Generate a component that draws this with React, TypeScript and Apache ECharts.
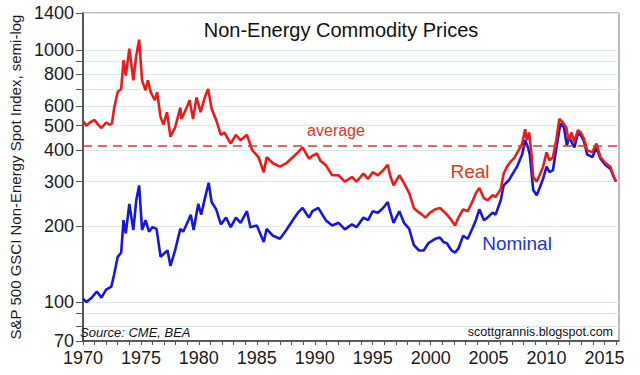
import React, { useEffect, useRef } from "react";
import * as echarts from "echarts";

const FONT = "'Liberation Sans', Arial, sans-serif";

const realYears = [
  1970.0, 1970.3, 1970.6, 1971.0, 1971.3, 1971.6, 1972.0, 1972.3, 1972.5, 1972.7,
  1973.0, 1973.3, 1973.5, 1973.7, 1974.0, 1974.35, 1974.6, 1974.85, 1975.1, 1975.4,
  1975.6, 1975.85, 1976.2, 1976.4, 1976.7, 1976.95, 1977.25, 1977.55, 1977.95, 1978.4,
  1978.5, 1978.95, 1979.2, 1979.5, 1979.8, 1980.15, 1980.55, 1980.8, 1981.1, 1981.5,
  1981.9, 1982.2, 1982.75, 1983.2, 1983.6, 1984.15, 1984.6, 1985.15, 1985.6, 1985.85,
  1986.4, 1987.0, 1987.55, 1988.1, 1988.55, 1988.95, 1989.5, 1989.8, 1990.2, 1990.5,
  1990.95, 1991.5, 1992.05, 1992.6, 1993.2, 1993.6, 1994.2, 1994.6, 1995.0, 1995.45,
  1995.9, 1996.3, 1996.5, 1996.8, 1997.3, 1997.7, 1998.15, 1998.55, 1998.85, 1999.25,
  1999.55, 1999.95, 2000.4, 2000.8, 2001.1, 2001.4, 2001.8, 2002.1, 2002.4, 2002.8,
  2003.2, 2003.65, 2003.9, 2004.2, 2004.6, 2004.9, 2005.35, 2005.6, 2006.05, 2006.3,
  2006.6, 2006.9, 2007.2, 2007.6, 2007.9, 2008.15, 2008.3, 2008.5, 2008.7, 2008.85,
  2009.15, 2009.4, 2009.7, 2010.0, 2010.25, 2010.55, 2010.85, 2011.1, 2011.4, 2011.7,
  2011.9, 2012.15, 2012.4, 2012.7, 2012.95, 2013.25, 2013.5, 2013.95, 2014.3, 2014.65,
  2015.1, 2015.5, 2015.8, 2016.0,
];
const realValues = [
  522, 500, 515, 527, 505, 490, 515, 505, 510, 590,
  680, 700, 909, 790, 1010, 757, 950, 1097, 757, 691,
  757, 680, 631, 680, 540, 505, 566, 452, 492, 590,
  532, 590, 631, 532, 648, 566, 655, 700, 585, 526,
  460, 470, 425, 460, 438, 460, 400, 375, 327, 375,
  355, 344, 355, 375, 392, 410, 370, 380, 388, 362,
  349, 318, 318, 300, 313, 300, 323, 308, 327, 318,
  333, 350, 318, 290, 318, 296, 270, 236, 229, 222,
  216, 226, 233, 236, 229, 222, 211, 201, 216, 233,
  229, 253, 270, 283, 258, 253, 265, 261, 280, 323,
  345, 360, 372, 400, 425, 484, 438, 470, 385, 313,
  300, 318, 344, 392, 365, 375, 442, 532, 515, 492,
  438, 470, 431, 480, 470, 442, 400, 392, 425, 375,
  355, 344, 313, 300,
];

const nominalYears = [
  1970.0, 1970.3, 1970.75, 1971.2, 1971.6, 1972.0, 1972.45, 1972.7, 1973.0, 1973.3,
  1973.5, 1973.7, 1974.0, 1974.35, 1974.6, 1974.85, 1975.1, 1975.4, 1975.7, 1976.0,
  1976.35, 1976.7, 1977.1, 1977.3, 1977.55, 1977.95, 1978.4, 1978.65, 1979.1, 1979.3,
  1979.55, 1979.95, 1980.2, 1980.55, 1980.85, 1981.1, 1981.5, 1981.9, 1982.35, 1982.75,
  1983.2, 1983.6, 1984.15, 1984.45, 1985.0, 1985.6, 1985.85, 1986.4, 1987.0, 1987.55,
  1988.1, 1988.55, 1988.95, 1989.5, 1989.8, 1990.3, 1990.95, 1991.5, 1992.05, 1992.6,
  1993.2, 1993.6, 1994.2, 1994.6, 1995.0, 1995.45, 1995.9, 1996.3, 1996.5, 1996.8,
  1997.3, 1997.7, 1998.15, 1998.55, 1999.0, 1999.4, 1999.8, 2000.4, 2000.8, 2001.1,
  2001.4, 2001.8, 2002.1, 2002.4, 2002.8, 2003.2, 2003.65, 2003.9, 2004.2, 2004.6,
  2004.9, 2005.35, 2005.6, 2006.05, 2006.3, 2006.75, 2007.0, 2007.45, 2007.9, 2008.15,
  2008.4, 2008.55, 2008.85, 2009.15, 2009.4, 2009.7, 2010.0, 2010.25, 2010.55, 2010.85,
  2011.2, 2011.5, 2011.75, 2011.95, 2012.4, 2012.7, 2012.95, 2013.25, 2013.5, 2013.95,
  2014.3, 2014.65, 2015.1, 2015.5, 2015.8, 2016.0,
];
const nominalValues = [
  103, 100, 104, 110, 104, 112, 115, 129, 151, 157,
  211, 187, 245, 193, 253, 290, 193, 211, 190, 198,
  195, 151, 157, 160, 139, 160, 195, 190, 211, 222,
  193, 245, 222, 261, 297, 249, 233, 203, 216, 198,
  216, 206, 229, 198, 201, 173, 195, 183, 178, 193,
  211, 226, 236, 216, 229, 236, 211, 201, 206, 194,
  203, 198, 216, 211, 229, 226, 236, 249, 229, 206,
  229, 206, 195, 168, 160, 160, 171, 178, 180, 173,
  171, 160, 157, 163, 183, 178, 198, 211, 233, 211,
  216, 226, 222, 253, 290, 304, 318, 344, 385, 438,
  410, 385, 278, 265, 283, 308, 344, 327, 333, 410,
  510, 492, 418, 451, 410, 465, 460, 431, 385, 375,
  410, 370, 349, 338, 313, 300,
];

const averageValue = 415;

const yTickValues = [70, 80, 90, 100, 200, 300, 400, 500, 600, 700, 800, 900, 1000, 1400];
const yLabelValues = [70, 100, 200, 300, 400, 500, 600, 800, 1000, 1400];
const xLabelYears = [1970, 1975, 1980, 1985, 1990, 1995, 2000, 2005, 2010, 2015];
const xTickYears = [
  1970, 1971, 1972, 1973, 1974, 1975, 1976, 1977, 1978, 1979,
  1980, 1981, 1982, 1983, 1984, 1985, 1986, 1987, 1988, 1989,
  1990, 1991, 1992, 1993, 1994, 1995, 1996, 1997, 1998, 1999,
  2000, 2001, 2002, 2003, 2004, 2005, 2006, 2007, 2008, 2009,
  2010, 2011, 2012, 2013, 2014, 2015, 2016,
];

const lg = (v: number) => Math.log10(v);

export default function App() {
  const ref = useRef<HTMLDivElement>(null);

  useEffect(() => {
    if (!ref.current) return;
    const chart = echarts.init(ref.current, undefined, { renderer: "svg" });
    const RED = "#ec1b1b";
    const BLUE = "#1717dc";
    chart.setOption({
      animation: false,
      textStyle: { fontFamily: FONT },
      grid: {
        left: 73,
        top: 13,
        width: 546,
        height: 328,
        show: true,
        borderColor: "#777",
        borderWidth: 1,
        backgroundColor: "transparent",
      },
      xAxis: {
        type: "value",
        min: 1970,
        max: 2016.25,
        axisLine: { show: true, onZero: false, lineStyle: { color: "#333", width: 1.5 } },
        axisTick: {
          show: true,
          customValues: xTickYears,
          length: 4,
          lineStyle: { color: "#555" },
        },
        axisLabel: {
          customValues: xLabelYears,
          fontSize: 18,
          color: "#1a1a1a",
          margin: 8,
          fontFamily: FONT,
          formatter: (v: number) => String(Math.round(v)),
        },
        splitLine: { show: false },
      },
      yAxis: {
        type: "value",
        min: lg(70),
        max: lg(1400),
        name: "S&P 500 GSCI Non-Energy Spot Index, semi-log",
        nameLocation: "middle",
        nameGap: 56,
        nameTextStyle: { fontSize: 15, color: "#1a1a1a", fontFamily: FONT },
        axisLine: { show: true, lineStyle: { color: "#333", width: 1.5 } },
        axisTick: {
          show: true,
          customValues: yTickValues.map(lg),
          length: 7,
          lineStyle: { color: "#555" },
        },
        axisLabel: {
          customValues: yLabelValues.map(lg),
          fontSize: 18,
          color: "#1a1a1a",
          margin: 9,
          fontFamily: FONT,
          formatter: (v: number) => String(Math.round(Math.pow(10, v))),
        },
        splitLine: { show: true, lineStyle: { color: "#d6e8f0", width: 1 } },
      },
      series: [
        {
          type: "line",
          name: "Nominal",
          data: nominalYears.map((y, i) => [y, lg(nominalValues[i])]),
          showSymbol: false,
          symbol: "none",
          lineStyle: { color: BLUE, width: 2.6 },
          itemStyle: { color: BLUE },
          z: 3,
        },
        {
          type: "line",
          name: "Real",
          data: realYears.map((y, i) => [y, lg(realValues[i])]),
          showSymbol: false,
          symbol: "none",
          lineStyle: { color: RED, width: 2.6 },
          itemStyle: { color: RED },
          z: 4,
          markLine: {
            silent: true,
            symbol: "none",
            label: { show: false },
            lineStyle: { color: "#e0352c", type: [9, 6], width: 1.5 },
            data: [{ yAxis: lg(averageValue) }],
          },
        },
      ],
      graphic: [
        {
          type: "text",
          x: 341,
          y: 30,
          style: {
            text: "Non-Energy Commodity Prices",
            fontSize: 20,
            fontFamily: FONT,
            fill: "#111",
            align: "center",
            verticalAlign: "middle",
          },
        },
        {
          type: "text",
          x: 336,
          y: 130,
          style: {
            text: "average",
            fontSize: 16,
            fontFamily: FONT,
            fill: "#e0352c",
            align: "center",
            verticalAlign: "middle",
          },
        },
        {
          type: "text",
          x: 470,
          y: 171,
          style: {
            text: "Real",
            fontSize: 19,
            fontFamily: FONT,
            fill: "#e8341f",
            align: "center",
            verticalAlign: "middle",
          },
        },
        {
          type: "text",
          x: 517,
          y: 243,
          style: {
            text: "Nominal",
            fontSize: 19,
            fontFamily: FONT,
            fill: "#2233dd",
            align: "center",
            verticalAlign: "middle",
          },
        },
        {
          type: "text",
          x: 80,
          y: 332,
          style: {
            text: "Source: CME, BEA",
            fontSize: 13,
            fontStyle: "italic",
            fontFamily: FONT,
            fill: "#111",
            align: "left",
            verticalAlign: "middle",
          },
        },
        {
          type: "text",
          x: 613,
          y: 332,
          style: {
            text: "scottgrannis.blogspot.com",
            fontSize: 12.5,
            fontFamily: FONT,
            fill: "#111",
            align: "right",
            verticalAlign: "middle",
          },
        },
      ],
    });
    return () => chart.dispose();
  }, []);

  return (
    <div
      ref={ref}
      style={{ position: "absolute", left: 0, top: 0, width: 640, height: 375, background: "#fff" }}
    />
  );
}
